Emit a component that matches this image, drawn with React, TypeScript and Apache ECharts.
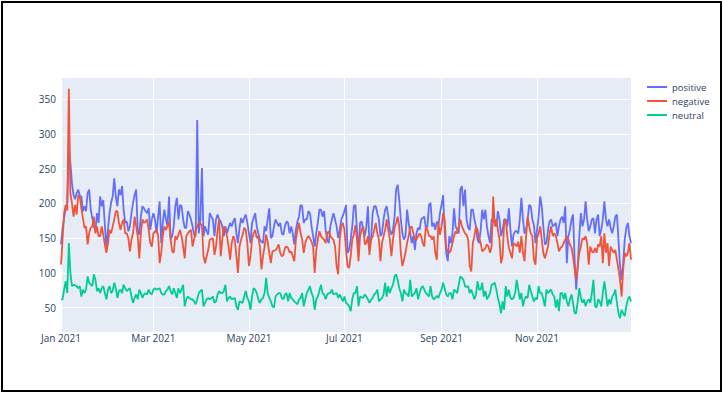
import React, { useEffect, useRef } from "react";
import * as echarts from "echarts";

// Daily dates for 2021 (category labels)
const dates: string[] = [];
for (let i = 0; i < 365; i++) {
  const d = new Date(Date.UTC(2021, 0, 1 + i));
  dates.push(d.toISOString().slice(0, 10));
}

const seriesNames = ["positive", "negative", "neutral"];
const monthNames = ["Jan", "Feb", "Mar", "Apr", "May", "Jun", "Jul", "Aug", "Sep", "Oct", "Nov", "Dec"];
const tickMonths = ["01", "03", "05", "07", "09", "11"];

const positive = [
  141,165,179,193,201,280,258,229,212,206,
  215,220,211,210,189,196,189,215,220,191,
  179,167,160,186,172,210,196,205,169,136,
  162,186,201,210,236,210,196,220,212,225,
  191,172,174,160,
  167,186,201,212,220,162,
  155,181,196,193,189,186,193,162,177,186,
  177,157,181,203,143,172,191,177,167,210,
  148,153,167,196,208,177,198,196,177,165,
  165,189,184,177,167,155,153,320,157,177,
  251,153,
  167,160,155,186,181,177,153,177,
  184,177,174,167,153,167,157,165,172,167,
  174,179,157,143,165,179,172,179,184,172,
  157,143,172,179,186,167,157,148,145,143,
  167,160,177,193,150,153,167,177,172,167,
  172,157,155,167,174,172,157,167,157,141,
  162,174,181,198,196,172,177,177,189,186,
  167,153,138,157,172,191,191,181,189,162,
  148,143,167,177,186,177,167,150,162,177,
  182,189,198,129,133,148,167,196,
  198,162,
  129,172,174,162,153,167,196,138,148,186,
  196,196,186,177,153,157,177,191,196,181,
  162,155,162,181,220,227,205,177,157,148,
  153,191,172,157,143,153,133,157,165,162,
  177,179,181,165,167,198,
  201,167,172,162,
  174,169,186,198,212,162,129,117,153,143,
  157,193,167,162,157,220,225,196,220,177,
  165,162,191,191,177,167,148,143,162,191,
  177,191,167,153,143,177,177,172,167,189,
  177,153,162,177,
  177,167,193,162,138,155,
  160,160,157,177,208,177,157,162,177,198,
  196,177,169,143,162,181,210,196,167,141,
  143,162,174,177,167,169,172,153,167,177,
  181,172,196,114,153,162,177,184,
  119,76,
  110,153,186,167,177,203,177,160,167,177,
  179,157,177,184,153,162,177,203,177,167,
  177,165,157,167,181,184,148,110,90,114,
  148,165,172,153,143,
];

const negative = [
  112,148,186,198,190,365,215,200,181,198,
  184,212,210,193,179,165,167,141,157,165,
  167,181,157,167,153,153,167,155,141,129,
  143,162,157,167,177,189,189,172,162,172,
  177,157,157,150,
  131,148,157,181,167,153,
  121,157,177,172,174,177,162,143,138,157,
  160,162,155,114,129,153,167,162,167,174,
  148,131,129,153,148,155,162,153,138,121,
  153,157,160,162,138,148,160,167,172,171,
  169,124,
  114,124,133,148,149,150,126,138,
  162,177,124,148,167,162,153,138,119,143,
  153,148,124,100,138,148,155,165,162,143,
  110,124,148,157,162,150,153,138,105,124,
  138,155,145,129,114,131,132,133,136,141,
  129,124,126,136,138,136,129,131,124,117,
  148,162,172,157,148,129,143,150,153,150,
  145,138,100,133,148,160,153,150,148,143,
  157,160,153,150,148,138,110,98,148,167,
  172,162,133,110,107,124,148,155,
  169,148,
  117,153,162,167,141,143,153,126,148,152,
  162,172,157,148,117,143,153,162,177,162,
  148,124,148,165,172,181,167,129,110,119,
  129,143,153,165,167,157,148,148,153,157,
  153,143,138,167,162,153,
  153,148,153,129,
  119,172,155,167,186,177,136,131,129,133,
  143,153,160,157,167,177,167,162,157,155,
  148,110,102,143,153,167,162,150,143,131,
  133,136,141,138,129,138,210,167,177,162,
  148,114,124,172,
  177,153,136,129,121,143,
  141,138,145,129,153,129,117,153,181,167,
  157,153,119,112,150,157,167,148,129,121,
  129,138,157,167,153,157,153,143,131,136,
  138,143,148,153,148,141,136,124,
  105,90,
  110,129,138,150,148,153,143,112,138,131,
  129,136,129,141,138,153,114,157,129,143,
  110,138,133,129,133,119,105,90,66,105,
  129,124,129,143,119,
];

const neutral = [
  62,62,76,88,71,143,100,81,83,82,
  81,78,81,66,76,71,76,95,86,83,
  81,98,90,74,78,71,78,81,71,62,
  76,81,71,74,86,78,64,74,76,71,
  83,78,74,76,
  78,66,57,64,69,62,
  76,71,64,69,71,69,76,71,69,76,
  78,76,77,78,71,69,69,74,76,81,
  74,69,78,71,64,78,71,76,83,52,
  62,66,64,62,62,59,55,62,71,74,
  76,52,
  57,62,64,62,64,66,57,59,
  69,74,71,71,74,83,59,64,66,62,
  63,64,52,47,59,58,57,66,74,64,
  59,47,66,78,76,71,62,57,62,64,
  71,93,71,64,59,52,50,66,69,71,
  71,64,62,69,71,59,71,64,62,59,
  57,55,62,64,71,52,62,71,76,81,
  71,66,47,62,66,74,83,71,69,62,
  69,71,71,76,69,70,71,64,69,64,
  59,66,57,55,52,45,62,71,
  71,81,
  52,66,65,64,69,66,62,57,61,64,
  69,71,76,59,62,64,69,86,66,81,
  71,78,83,95,98,90,78,71,59,76,
  71,69,66,90,66,69,71,78,62,71,
  78,81,76,71,69,66,
  81,66,62,64,
  67,64,71,76,86,78,69,66,71,71,
  62,76,74,71,83,95,93,90,81,80,
  81,71,76,69,62,69,88,76,76,86,
  66,74,62,66,71,83,84,86,76,64,
  55,42,59,47,
  81,66,76,64,62,64,
  71,90,76,62,71,52,62,66,64,83,
  74,66,59,64,62,81,71,71,62,52,
  76,71,74,76,69,66,50,62,45,71,
  71,62,71,59,52,62,69,57,
  42,42,
  59,78,64,57,62,52,59,62,57,71,
  90,52,50,62,59,52,71,88,71,52,
  62,55,66,69,76,57,42,35,47,42,
  38,52,62,66,59,
];

const colors = ["#636EFA", "#EF553B", "#00CC96"];
const fontFamily = '"Open Sans", verdana, arial, sans-serif';
const textColor = "#2a3f5f";

const isTick = (_i: number, v: string) => {
  const parts = v.split("-");
  return parts[2] === "01" && tickMonths.includes(parts[1]);
};

export default function App() {
  const ref = useRef<HTMLDivElement>(null);
  useEffect(() => {
    const chart = echarts.init(ref.current!, null, { renderer: "svg" });
    const dataSets = [positive, negative, neutral];
    chart.setOption({
      animation: false,
      backgroundColor: "#ffffff",
      textStyle: { fontFamily },
      grid: {
        left: 61,
        right: 93,
        top: 77,
        bottom: 62,
        show: true,
        backgroundColor: "#E5ECF6",
        borderWidth: 0,
        containLabel: false,
      },
      legend: {
        orient: "vertical",
        left: 646,
        top: 82,
        padding: 0,
        itemWidth: 20,
        itemHeight: 10,
        itemGap: 4,
        itemStyle: { opacity: 0 },
        lineStyle: { width: 2 },
        textStyle: { fontSize: 9.5, color: textColor, fontFamily },
        data: seriesNames,
      },
      xAxis: {
        type: "category",
        data: dates,
        boundaryGap: false,
        axisLine: { show: false },
        axisTick: { show: false },
        axisLabel: {
          interval: isTick,
          margin: 1,
          fontSize: 10,
          color: textColor,
          fontFamily,
          formatter: (v: string) => {
            const p = v.split("-");
            return monthNames[parseInt(p[1], 10) - 1] + " " + p[0];
          },
        },
        splitLine: { show: true, interval: isTick, lineStyle: { color: "#ffffff", width: 1 } },
      },
      yAxis: {
        type: "value",
        min: 15,
        max: 382,
        splitNumber: 7,
        axisLine: { show: false },
        axisTick: { show: false },
        axisLabel: {
          margin: 5,
          fontSize: 10,
          color: textColor,
          fontFamily,
          showMinLabel: false,
          showMaxLabel: false,
          formatter: (v: number) => (v % 50 === 0 ? String(v) : ""),
        },
        splitLine: { show: true, lineStyle: { color: "#ffffff", width: 1 } },
      },
      series: seriesNames.map((name, i) => ({
        name,
        type: "line",
        data: dataSets[i],
        symbol: "none",
        showSymbol: false,
        color: colors[i],
        lineStyle: { color: colors[i], width: 1.8 },
      })),
    });
    return () => chart.dispose();
  }, []);
  return (
    <div style={{ position: "fixed", left: 0, top: 0, width: 724, height: 394, background: "#fff" }}>
      <div ref={ref} style={{ position: "absolute", left: 0, top: 0, width: 724, height: 394 }} />
      <div
        style={{
          position: "absolute",
          left: 1,
          top: 1,
          width: 721,
          height: 391,
          border: "2px solid #000",
          boxSizing: "border-box",
          pointerEvents: "none",
        }}
      />
    </div>
  );
}
